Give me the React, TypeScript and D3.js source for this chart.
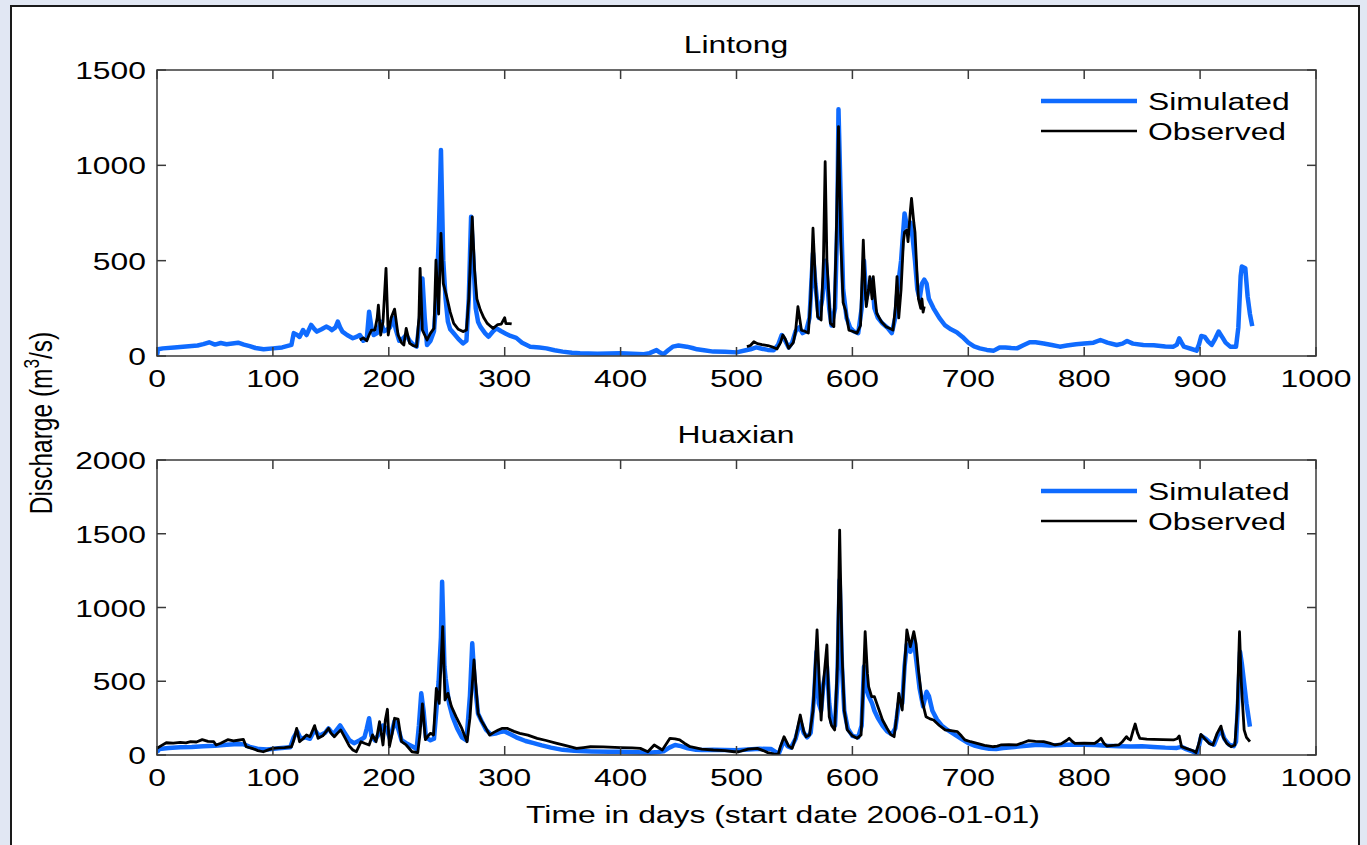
import React from "react";
import * as d3 from "d3";

type P = [number, number] | null;

const xTicks = [0, 100, 200, 300, 400, 500, 600, 700, 800, 900, 1000];
const linTicks = [0, 500, 1000, 1500];
const huaTicks = [0, 500, 1000, 1500, 2000];
const seriesNames = ["Simulated", "Observed"];

const linSim: P[] = [
[0,5],[1,35],[5,40],[15,45],[25,50],[35,55],[40,62],[45,72],[50,60],[55,68],[60,62],[65,66],[70,70],[75,60],[80,52],[85,42],[92,35],[100,40],[108,45],[116,58],[118,120],[121,110],[123,100],[126,136],[129,110],[133,163],[136,140],[138,128],[142,140],[146,154],[149,145],[151,136],[154,150],[156,180],[158,150],[160,128],[164,110],[169,93],[172,100],[175,110],[178,80],[181,90],[183,232],[185,150],[187,110],[190,120],[193,180],[196,130],[198,136],[201,150],[204,200],[206,140],[209,80],[212,90],[215,110],[218,80],[221,60],[224,49],[227,200],[229,407],[231,200],[233,58],[236,80],[239,130],[241,300],[243,600],[245,1080],[247,500],[249,300],[251,180],[253,140],[256,119],[260,90],[264,66],[267,80],[269,300],[271,730],[273,500],[275,250],[277,180],[279,154],[283,120],[286,101],[290,130],[293,145],[297,130],[301,117],[305,105],[310,95],[315,70],[322,49],[330,44],[336,40],[343,30],[350,23],[358,17],[365,14],[380,12],[400,14],[410,12],[420,9],[425,15],[431,31],[434,18],[437,9],[441,30],[445,49],[450,55],[457,49],[462,42],[466,35],[472,30],[480,23],[490,22],[500,19],[508,30],[512,35],[517,45],[522,38],[527,32],[532,30],[536,60],[539,110],[542,80],[545,45],[548,70],[551,130],[554,150],[557,120],[560,130],[563,200],[566,540],[568,380],[571,200],[574,300],[577,500],[580,250],[582,160],[585,250],[587,700],[588,1294],[590,800],[592,350],[595,200],[598,150],[601,130],[605,120],[608,250],[610,500],[612,300],[614,350],[617,400],[619,250],[622,200],[626,170],[630,150],[634,120],[637,200],[639,350],[642,500],[645,748],[647,680],[650,700],[652,620],[654,500],[656,350],[658,300],[660,380],[662,400],[664,380],[666,300],[670,250],[675,200],[680,160],[685,140],[690,125],[695,100],[700,70],[705,50],[710,40],[716,32],[722,28],[727,45],[732,45],[737,42],[742,40],[747,55],[753,72],[758,72],[765,66],[772,58],[779,49],[785,55],[793,62],[800,66],[808,70],[814,84],[820,70],[828,58],[833,65],[837,79],[842,65],[851,58],[860,56],[870,50],[877,49],[880,60],[882,93],[884,70],[886,49],[892,38],[897,28],[899,60],[901,105],[904,100],[907,75],[910,58],[913,90],[916,128],[919,100],[922,70],[926,49],[931,49],[933,150],[935,420],[936,469],[939,460],[941,311],[943,220],[945,157]
];

const linObs: P[] = [
[175,84],[178,95],[181,80],[183,110],[185,136],[188,136],[190,200],[191,267],[193,110],[195,180],[197.6,460],[199.5,110],[202,200],[205,246],[208,110],[211,70],[213,58],[215,145],[218,66],[221,55],[224,49],[226,200],[227,460],[229,136],[233,84],[236,120],[239,145],[240.7,503],[243,220],[245,643],[247,381],[250,311],[253,230],[256,171],[260,140],[264,128],[267,136],[269,300],[272,730],[274,450],[276,300],[279,241],[282,200],[285,171],[288,155],[290,145],[294,165],[297,167],[300,201],[301,170],[304,170],[306,168],
null,
[509,49],[512,55],[515,75],[518,65],[522,60],[527,55],[532,45],[535,37],[538,70],[540,110],[542,90],[545,40],[549,70],[551,130],[553,259],[556,136],[559,130],[562,120],[564,300],[566,670],[568,400],[570,206],[573,189],[575,500],[576.5,1019],[578,500],[581,172],[584,154],[586,600],[588,1203],[590,600],[592,280],[594,241],[597,136],[600,130],[604,120],[607,160],[609.4,608],[611,350],[612,259],[614,350],[615,416],[617,300],[618,416],[620,280],[621,224],[625,180],[629,154],[632,145],[635,136],[637,250],[638.5,416],[640,200],[642,350],[644,600],[645,650],[647,661],[648,600],[650,760],[651,827],[653,700],[654,650],[656,400],[657,300],[659,250],[660,300],[661,230],[662,260]
];

const huaSim: P[] = [
[0,20],[2,40],[10,48],[20,52],[30,55],[40,60],[50,62],[60,70],[70,75],[75,72],[80,55],[88,40],[95,38],[105,45],[115,52],[118,120],[121,160],[124,110],[128,120],[132,110],[136,170],[140,130],[145,150],[148,180],[152,140],[155,170],[158,200],[162,150],[166,100],[170,80],[175,100],[179,120],[181,180],[183,249],[185,130],[188,100],[192,150],[195,200],[198,180],[201,110],[205,230],[208,180],[211,100],[215,80],[220,60],[224,40],[226,200],[228,418],[230,300],[232,120],[236,100],[239,110],[241,300],[243,500],[245,800],[246,1175],[248,600],[249,520],[252,350],[255,260],[259,180],[263,120],[267,100],[270,400],[272,757],[274,500],[277,280],[280,230],[284,170],[288,140],[292,145],[296,155],[300,160],[305,140],[310,120],[318,95],[325,80],[332,65],[340,50],[350,35],[360,28],[375,24],[390,22],[400,22],[415,18],[425,16],[432,20],[437,25],[442,50],[447,68],[452,60],[458,45],[465,36],[470,34],[480,36],[490,34],[500,32],[510,38],[520,42],[530,40],[534,20],[536,0],[538,40],[541,100],[544,60],[547,50],[551,110],[555,230],[558,150],[561,120],[564,150],[567,400],[569,700],[571,350],[573,300],[575,480],[578,600],[580,350],[582,220],[585,200],[587,500],[589,1186],[591,600],[593,300],[596,180],[600,130],[605,120],[608,200],[610,600],[612,450],[614,400],[617,350],[619,300],[622,250],[626,200],[630,160],[634,140],[637,180],[640,350],[643,350],[645,600],[647,750],[650,700],[653,780],[655,650],[658,450],[661,330],[664,429],[666,400],[669,300],[673,240],[677,200],[682,170],[688,140],[694,110],[700,80],[706,62],[712,50],[718,42],[724,40],[730,48],[740,55],[750,62],[760,70],[770,65],[780,68],[790,72],[800,70],[810,68],[820,62],[830,60],[840,58],[850,60],[860,55],[870,50],[880,48],[884,55],[888,40],[894,22],[897,10],[899,60],[901,130],[905,110],[909,80],[912,70],[915,130],[918,170],[921,110],[925,70],[929,60],[931,90],[933,400],[934.5,700],[936,620],[938,486],[940,350],[943,192]
];

const huaObs: P[] = [
[0,45],[3,60],[8,83],[14,80],[20,85],[25,82],[29,90],[34,88],[39,104],[44,92],[49,90],[51,68],[55,80],[61,104],[66,95],[70,100],[74.5,106],[77,56],[82,45],[87,30],[91.7,22],[96,35],[100,45],[105,48],[110,50],[116,56],[118,100],[120.5,181],[123,90],[126,110],[129,136],[132,124],[136,199],[139,113],[143,130],[148,181],[150,150],[153,124],[156,150],[158.5,170],[162,120],[166,60],[169,34],[172,22],[176,90],[179,80],[183,68],[186,136],[189,90],[192,226],[195,68],[197,237],[198.8,310],[200.5,56],[203,150],[205,249],[208,244],[211,90],[215,68],[220,22],[225,16],[227,150],[229,346],[231.6,104],[234,130],[236,147],[238.6,136],[241,452],[243.5,350],[246.5,870],[248.5,373],[251,418],[254,330],[258,260],[263,180],[267.5,90],[270,250],[273.5,644],[277,283],[280,230],[283,192],[287,136],[291,155],[294.5,170],[298,181],[302,181],[308,160],[313,147],[320,135],[328,113],[335,100],[345,79],[352,65],[362,45],[368,50],[374,56],[385,55],[400,50],[410,48],[417,45],[423.5,22],[429,68],[436,34],[442.6,113],[447,110],[451,102],[455,80],[460,56],[470,40],[480,34],[490,30],[498,22],[502,22],[510,40],[518,45],[523,30],[527,16],[532,8],[536,5],[538,60],[541,124],[545,60],[548,45],[551,120],[555,271],[558,160],[560,124],[563,136],[566,300],[569.5,848],[572,400],[573,237],[575,486],[578,746],[580,260],[582,200],[584.7,170],[587,600],[589,1525],[591,700],[593,300],[595.6,170],[600,130],[604,113],[607.5,136],[609,400],[611,836],[613,550],[614,463],[616.6,396],[619,395],[621,350],[623,305],[626,237],[630,180],[633,140],[636,124],[638,250],[640,418],[643,305],[645,600],[647,848],[650,734],[653,836],[655,750],[657,576],[660,373],[663.5,260],[667,245],[670,237],[675,200],[680,170],[685,165],[690.6,158],[694,130],[697,102],[702,90],[707.6,79],[714,65],[721,56],[725,60],[728,68],[735,70],[741.5,68],[746,80],[751.7,97],[758,92],[765,90],[770,80],[775,68],[780,75],[785,100],[787,113],[790,90],[792,79],[800,80],[809,79],[812,95],[814.5,113],[817,80],[819.5,61],[825,65],[829.7,68],[833,90],[836.5,124],[838,110],[840,102],[842,160],[844,210],[846,150],[848,113],[854,108],[860,106],[868,104],[877,102],[880,110],[882,129],[884,56],[888,45],[894,29],[896.5,16],[899,80],[900.7,140],[904,110],[907.7,79],[911,68],[913,110],[914.7,147],[918,196],[920,120],[923,79],[926.7,56],[930,68],[932,300],[934,836],[935.5,500],[936.6,350],[938,170],[940,120],[943,90]
];

const FONT = "'Liberation Sans', Arial, Helvetica, sans-serif";
const FS = 24.5;
const SX = 1.3;
const BLUE = "#0f6bff";
const AXIS = "#3a3a3a";

function T({ x, y, anchor = "start", children }: any) {
  return (
    <text
      transform={`translate(${x},${y}) scale(${SX},1)`}
      textAnchor={anchor}
      fontFamily={FONT}
      fontSize={FS}
      fill="#000"
    >
      {children}
    </text>
  );
}

function Panel({ title, yMax, yTicks, top, bottom, sim, obs, legendY }: any) {
  const x = d3.scaleLinear().domain([0, 1000]).range([157, 1316]);
  const y = d3.scaleLinear().domain([0, yMax]).range([bottom, top]);
  const line = d3
    .line<P>()
    .defined((d) => d !== null)
    .x((d) => x((d as [number, number])[0]))
    .y((d) => y((d as [number, number])[1]));
  const tl = 9;
  const id = `clip-${title}`;
  return (
    <g>
      <clipPath id={id}>
        <rect x={x(0)} y={top} width={x(1000) - x(0)} height={bottom - top} />
      </clipPath>
      <g clipPath={`url(#${id})`}>
        <path d={line(sim) || ""} fill="none" stroke={BLUE} strokeWidth={4.5} strokeLinejoin="round" />
        <path d={line(obs) || ""} fill="none" stroke="#000" strokeWidth={2.8} strokeLinejoin="round" />
      </g>
      <rect x={x(0)} y={top} width={x(1000) - x(0)} height={bottom - top} fill="none" stroke={AXIS} strokeWidth={1.5} />
      {xTicks.map((t) => (
        <g key={`xt${t}`}>
          <line x1={x(t)} x2={x(t)} y1={bottom} y2={bottom - tl} stroke={AXIS} strokeWidth={1.5} />
          <line x1={x(t)} x2={x(t)} y1={top} y2={top + tl} stroke={AXIS} strokeWidth={1.5} />
          <T x={x(t)} y={bottom + 31} anchor="middle">{t}</T>
        </g>
      ))}
      {yTicks.map((t: number) => (
        <g key={`yt${t}`}>
          <line x1={x(0)} x2={x(0) + tl} y1={y(t)} y2={y(t)} stroke={AXIS} strokeWidth={1.5} />
          <line x1={x(1000)} x2={x(1000) - tl} y1={y(t)} y2={y(t)} stroke={AXIS} strokeWidth={1.5} />
          <T x={146} y={y(t) + 9} anchor="end">{t}</T>
        </g>
      ))}
      <T x={736} y={top - 17} anchor="middle">{title}</T>
      <line x1={1041} x2={1137} y1={legendY} y2={legendY} stroke={BLUE} strokeWidth={4.5} />
      <T x={1148} y={legendY + 9}>{seriesNames[0]}</T>
      <line x1={1041} x2={1137} y1={legendY + 30} y2={legendY + 30} stroke="#000" strokeWidth={2.6} />
      <T x={1148} y={legendY + 39}>{seriesNames[1]}</T>
    </g>
  );
}

export default function App() {
  return (
    <svg
      width={1367}
      height={845}
      style={{ position: "absolute", left: 0, top: 0, display: "block" }}
    >
      <rect x={0} y={0} width={1367} height={845} fill="#e1e7f3" />
      <rect x={11} y={6} width={1348} height={900} fill="#fff" stroke="#1a1a1a" strokeWidth={2} />
      <Panel title="Lintong" yMax={1500} yTicks={linTicks} top={70} bottom={356} sim={linSim} obs={linObs} legendY={101} />
      <Panel title="Huaxian" yMax={2000} yTicks={huaTicks} top={460} bottom={755} sim={huaSim} obs={huaObs} legendY={491} />
      <T x={783} y={823} anchor="middle">Time in days (start date 2006-01-01)</T>
      <text
        transform={`translate(52,423) rotate(-90) scale(1,${SX})`}
        textAnchor="middle"
        fontFamily={FONT}
        fontSize={FS}
        fill="#000"
      >
        Discharge (m<tspan fontSize={FS * 0.7} dy={-10}>3</tspan>
        <tspan dy={10}>/s)</tspan>
      </text>
    </svg>
  );
}
